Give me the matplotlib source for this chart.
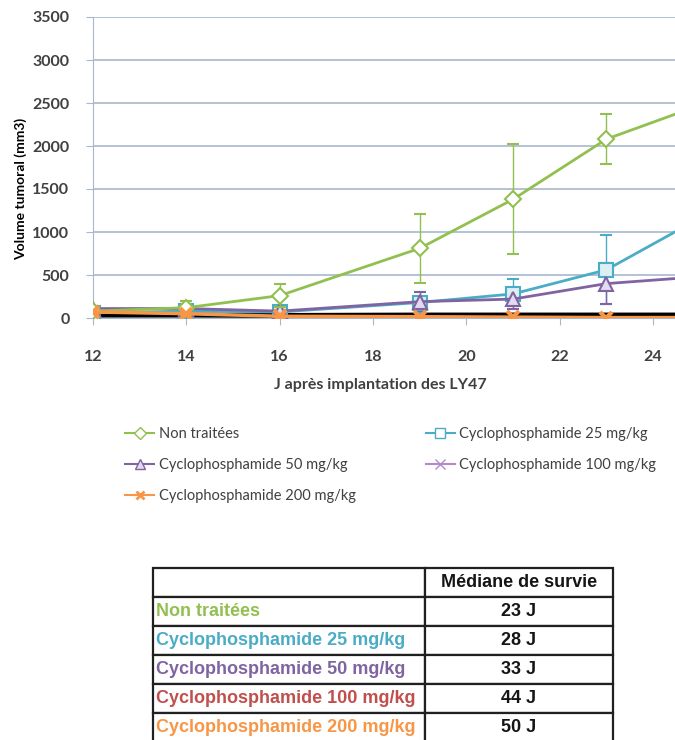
import matplotlib
matplotlib.use("Agg")
import matplotlib.pyplot as plt
from matplotlib.lines import Line2D

# data (days after implantation, tumour volume mm3)
days = [12, 14, 16, 19, 21, 23, 26]
non_traitees = [80, 120, 260, 810, 1380, 2080, 2670]
non_traitees_err = [40, 80, 130, 400, 640, 290, 300]
cyclo_25 = [60, 80, 70, 180, 280, 560, 1460]
cyclo_25_err = [50, 60, 40, 120, 170, 400, 300]
cyclo_50 = [110, 110, 80, 190, 220, 400, 520]
cyclo_50_err = [30, 40, 30, 110, 120, 240, 200]
cyclo_100 = [35, 35, 30, 35, 35, 35, 35]
cyclo_200 = [70, 50, 20, 15, 10, 5, 5]

labels = ["Non traitées", "Cyclophosphamide 25 mg/kg", "Cyclophosphamide 50 mg/kg",
          "Cyclophosphamide 100 mg/kg", "Cyclophosphamide 200 mg/kg"]
survie = ["23 J", "28 J", "33 J", "44 J", "50 J"]

green = "#92C050"
cyan = "#4BACC6"
purple = "#8064A2"
mauve = "#B48AC8"
orange = "#F79646"
red = "#C0504D"
grid_c = "#A8B8CC"
txt_c = "#404040"

plt.rcParams["font.family"] = ["Lato", "DejaVu Sans"]

fig = plt.figure(figsize=(6.75, 7.4), dpi=100)
ax = fig.add_axes([93 / 675, 1 - 318 / 740, 1 - 93 / 675, (318 - 17) / 740])

eb = dict(elinewidth=1, capsize=4, capthick=1)
ax.errorbar(days, non_traitees, yerr=non_traitees_err, color=green, lw=2, marker="D",
            ms=8, mfc="white", mec=green, mew=1.5, ecolor=green, zorder=5, **eb)
ax.errorbar(days, cyclo_25, yerr=cyclo_25_err, color=cyan, lw=2, marker="s",
            ms=10, mfc="#DDEFF5", mec=cyan, mew=1.5, ecolor=cyan, zorder=4, **eb)
ax.errorbar(days, cyclo_50, yerr=cyclo_50_err, color=purple, lw=2, marker="^",
            ms=10, mfc="#E2DAEE", mec=purple, mew=1.5, ecolor=purple, zorder=4, **eb)
ax.plot(days, cyclo_100, color="black", lw=3.5, zorder=3)
ax.plot(days, cyclo_200, color=orange, lw=2.5, marker="x", ms=9, mew=3, zorder=6)

ax.set_xlim(12, 24.47)
ax.set_ylim(0, 3500)
ax.set_xticks(range(12, 25, 2))
ax.set_yticks(range(0, 3501, 500))
ax.yaxis.grid(True, color=grid_c, lw=1.2)
ax.set_axisbelow(True)
for s in ["top", "right"]:
    ax.spines[s].set_visible(False)
ax.spines["left"].set_color(grid_c)
ax.spines["bottom"].set_color(grid_c)
ax.tick_params(axis="both", colors=grid_c, labelcolor=txt_c, labelsize=11.5, length=5)
for t in ax.get_xticklabels() + ax.get_yticklabels():
    t.set_fontweight("bold")
ax.tick_params(axis="x", pad=18)
ax.tick_params(axis="y", pad=12)
ax.set_ylabel("Volume tumoral (mm3)", fontsize=10, fontweight="bold", color="black")
ax.yaxis.set_label_coords(-66 / (675 - 93), 0.43)
ax.set_xlabel("J après implantation des LY47", fontsize=11.5, fontweight="bold", color=txt_c)
ax.xaxis.set_label_coords((380 - 93) / (675 - 93), -0.2)

h_non = Line2D([], [], color=green, marker="D", ms=6, mfc="white", mec=green, lw=1.5)
h_25 = Line2D([], [], color=cyan, marker="s", ms=7, mfc="white", mec=cyan, lw=1.5)
h_50 = Line2D([], [], color=purple, marker="^", ms=7, mfc="#E2DAEE", mec=purple, lw=1.5)
h_100 = Line2D([], [], color=mauve, marker="x", ms=7, mew=1, lw=1.5)
h_200 = Line2D([], [], color=orange, marker="x", ms=6, mew=2, lw=1.5)
# column-wise fill: left column gets the first three
fig.legend([h_non, h_50, h_200, h_25, h_100],
           [labels[0], labels[2], labels[4], labels[1], labels[3]],
           loc="upper left", bbox_to_anchor=(112 / 675, 1 - 414 / 740),
           ncol=2, frameon=False, fontsize=10.5, handlelength=2.0, handletextpad=0.3,
           columnspacing=4.8, labelspacing=1.15, labelcolor=txt_c)

# survival table
tax = fig.add_axes([153 / 675, -2 / 740, (613 - 153) / 675, (740 - 568 + 2) / 740])
tax.axis("off")
cells = [["", "Médiane de survie"]] + [[l, s] for l, s in zip(labels, survie)]
tb = tax.table(cellText=cells, colWidths=[272 / 460, 188 / 460], loc="upper left",
               bbox=[0, 0, 1, 1], cellLoc="center")
tb.auto_set_font_size(False)
row_colors = [green, cyan, purple, red, orange]
for (r, c), cell in tb.get_celld().items():
    cell.set_linewidth(1.6)
    cell.set_edgecolor("#202020")
    txt = cell.get_text()
    txt.set_fontfamily(["Liberation Sans", "DejaVu Sans"])
    txt.set_fontsize(13)
    txt.set_fontweight("bold")
    if c == 0 and r > 0:
        txt.set_color(row_colors[r - 1])
        txt.set_ha("left")
        cell.PAD = 0.01
        cell._loc = "left"
    else:
        txt.set_color("#151515")

fig.savefig("out.png", dpi=100)
